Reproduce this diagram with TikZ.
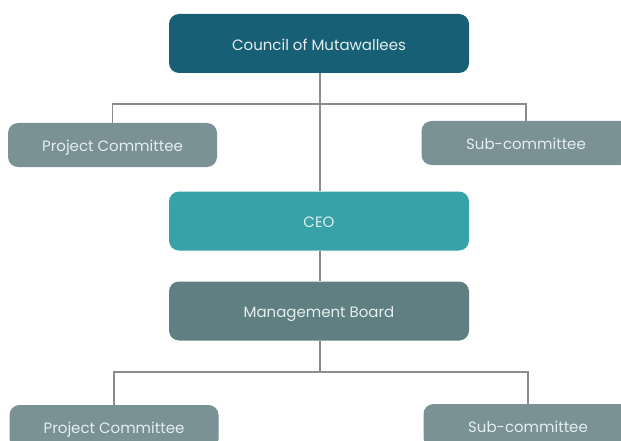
\documentclass[tikz,border=0pt]{standalone}
\usepackage{fontspec}
\setmainfont{Poppins}
\usetikzlibrary{positioning}
\definecolor{council}{HTML}{175F74}
\definecolor{ceo}{HTML}{37A2A8}
\definecolor{board}{HTML}{5F7F82}
\definecolor{committee}{HTML}{7A9196}
\definecolor{linkgray}{HTML}{8C8C8C}
\definecolor{boxtext}{HTML}{E4EEEF}

\begin{document}
\begin{tikzpicture}[x=1pt, y=-1pt,
    unit/.style = {rounded corners=10pt, text=boxtext, font=\fontsize{15}{17}\selectfont, inner sep=0pt, text height=15pt, text depth=1.5pt},
    wide/.style = {unit, minimum width=300pt, minimum height=59pt},
    small/.style = {unit, fill=committee, minimum width=209pt, minimum height=44pt},
    link/.style = {draw=linkgray, line width=1.1pt}]

    % frame
    \useasboundingbox (0,0) rectangle (621,441);

    % main line
    \node[wide, fill=council] (council) at (319,43.5) {Council of Mutawallees};
    \node[wide, fill=ceo] (ceo) at (319,221) {CEO};
    \node[wide, fill=board] (board) at (319,311) {Management Board};

    % committees
    \node[small] (pcupper) at (112.5,145) {Project Committee};
    \node[small] (scupper) at (526,143) {Sub-committee};
    \node[small] (pclower) at (114,427) {Project Committee};
    \node[small] (sclower) at (528,426) {Sub-committee};

    % split points
    \coordinate (splitupper) at (320,104);
    \coordinate (splitlower) at (320,372);

    % connectors
    \draw[link] (council.south -| splitupper) -- (ceo.north -| splitupper);
    \draw[link] (pcupper.north) |- (splitupper) -| (scupper.north);
    \draw[link] (ceo.south -| splitupper) -- (board.north -| splitupper);
    \draw[link] (board.south -| splitlower) -- (splitlower);
    \draw[link] (pclower.north) |- (splitlower) -| (sclower.north);

\end{tikzpicture}
\end{document}
